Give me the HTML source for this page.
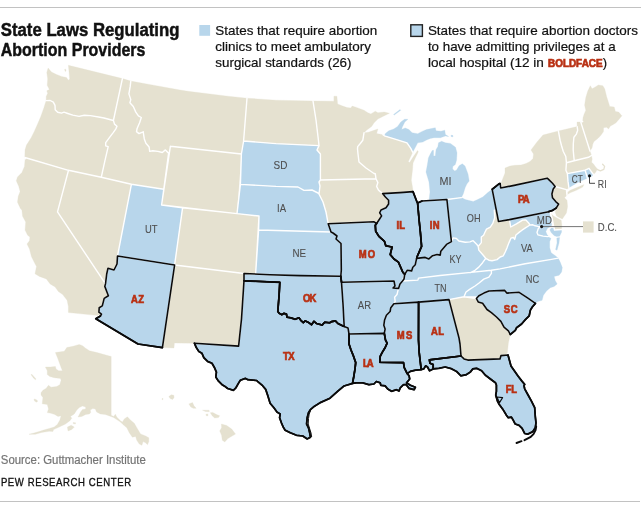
<!DOCTYPE html>
<html lang="en"><head><meta charset="utf-8"><title>State Laws Regulating Abortion Providers</title>
<style>
html,body{margin:0;padding:0;background:#fff;}
body{width:641px;height:509px;overflow:hidden;font-family:"Liberation Sans",sans-serif;}
svg{display:block;}
text{font-family:"Liberation Sans",sans-serif;}
.t{font-weight:700;font-size:17.5px;fill:#111;stroke:#111;stroke-width:.45px;}
.l{font-size:13px;fill:#111;stroke:#111;stroke-width:.2px;}
.st{fill:#e5e1d0;stroke:#e5e1d0;stroke-width:.3;stroke-linejoin:round;}
.sb{fill:#b8d6eb;stroke:#b8d6eb;stroke-width:.3;stroke-linejoin:round;}
.wl{fill:none;stroke:#fff;stroke-width:1.4;stroke-linejoin:round;stroke-linecap:round;}
.bd{fill:none;stroke:#0a0a0a;stroke-width:1.6;stroke-linejoin:round;stroke-linecap:round;}
.lb{font-size:10.6px;fill:#4f4f4f;stroke:#4f4f4f;stroke-width:.1px;}
.lr{font-size:10.5px;font-weight:700;fill:#b93114;stroke:#b93114;stroke-width:.7px;}
</style></head><body>
<svg width="641" height="509" viewBox="0 0 641 509">
<rect x="0" y="0" width="641" height="509" fill="#fff"/>
<rect x="0" y="7" width="641" height="1" fill="#c2c2c2"/>
<rect x="0" y="501" width="640" height="1" fill="#c2c2c2"/>

<g id="map">
<path class="st" d="M46.2 100.6L46.2 96.5L47.7 93.3L46.8 90.8L49.4 89.6L47.2 85.2L47.7 78.9L46.8 72.6L48.1 68L51.4 72L56.5 74.5L61.5 76.4L66.5 77.6L68.4 80.3L69.7 78.9L69.1 72.6L68.4 65.3L122.4 78.6L113.4 120.5L104 118L100 117.2L90.4 115.6L84.2 115.3L79.1 116.4L72.8 115.1L67.8 113.5L64 112.2L61.5 113.1L57.7 112.2L55.2 109.7L55 105.3L53.3 102.1L50.2 100.5L46.2 100.6Z"/>
<path class="st" d="M64.6 69.4L65.6 69L66 71L65.2 71.4Z"/>
<path class="st" d="M24.8 157.5L25 150L26.5 145L31 138L34.5 131L37.6 124L40.8 116.6L43.9 107.8L46.2 100.6L50.2 100.5L53.3 102.1L55 105.3L55.2 109.7L57.7 112.2L61.5 113.1L64 112.2L67.8 113.5L72.8 115.1L79.1 116.4L84.2 115.3L90.4 115.6L100 117.2L104 118L113.4 120.5L114.5 124.1L117 126.2L115.7 129.1L113.2 132.6L109.4 137.6L105.7 142.6L105.7 145.8L108.2 146.7L105 160.3L101.3 177.2L68.5 170.3Z"/>
<path class="st" d="M24.8 157.5L68.5 170.3L57.5 211.9L105.5 283.9L104.8 286.4L107.4 293.3L108.4 295.8L104.2 298.4L102.3 305.9L99.2 307.8L98.9 312.2L101.5 314.1L100.4 316L98.5 315.6L68.4 312.6L68.4 306.5L67.1 300.3L62.7 294.6L58.3 291.4L55.2 287L50.1 283.9L46.4 278.9L39.4 276.4L35 273.8L36.5 266.5L34.5 262.8L31.4 256.5L29.5 249L27 244L29.5 240.8L29.9 237L27.6 235.2L25.1 230.1L25.7 221.9L22.6 216.3L21.9 210L20.7 209.1L17.5 202.2L18.2 196.5L20.1 191.5L18.8 186.5L16.3 180.8L17.5 177L21.9 172.6L24.5 166.4L25.1 158.8Z"/>
<path class="st" d="M68.5 170.3L101.3 177.2L131.4 184.3L117.5 256L117 264L114 270L108 268.2L106.7 274L105.5 283.9L57.5 211.9Z"/>
<path class="st" d="M122.4 78.6L130.8 81.1L130.2 86.4L128.9 93.9L130.8 99.6L129.9 102.7L133.3 106.5L135.8 112.1L138.4 115.9L141.3 117.5L139.6 122.8L137.1 128.5L136.5 131.6L139 133.6L143.2 131.8L144.3 138.9L145.9 143.3L149.1 147L149.7 151.4L152.8 150.8L157.9 151.4L162.3 152.5L165.4 149.9L168.6 153.3L163.8 189.2L131.4 184.3L101.3 177.2L105 160.3L108.2 146.7L105.7 145.8L105.7 142.6L109.4 137.6L113.2 132.6L115.7 129.1L117 126.2L114.5 124.1L113.4 120.5Z"/>
<path class="st" d="M130.8 81.1L148 84.2L180 90L188 91.3L228 96.2L247 98.2L243.6 141L241.4 154L170.4 146.2L169.5 152L168.6 153.3L165.4 149.9L162.3 152.5L157.9 151.4L152.8 150.8L149.7 151.4L149.1 147L145.9 143.3L144.3 138.9L143.2 131.8L139 133.6L136.5 131.6L137.1 128.5L139.6 122.8L141.3 117.5L138.4 115.9L135.8 112.1L133.3 106.5L129.9 102.7L130.8 99.6L128.9 93.9L130.2 86.4Z"/>
<path class="st" d="M170.4 146.2L241.4 154L237 213.6L161.6 205Z"/>
<path class="sb" d="M131.4 184.3L163.8 189.2L161.6 205L182.6 207.7L174.6 265L117.5 256Z"/>
<path class="st" d="M182.6 207.7L237 213.6L259 216L255.6 274.1L244 273.5L174.6 265Z"/>
<path class="st" d="M174.6 265L244 273.5L244 280.8L241.5 319L238.6 346.1L194.4 343.2L174.4 343L174 348L162.4 347.6Z"/>
<path class="sb" d="M174.6 265L162.4 347.6L138 344L95.8 318.7L100.4 316L101.5 314.1L98.9 312.2L99.2 307.8L102.3 305.9L104.2 298.4L108.4 295.8L107.4 293.3L104.8 286.4L105.5 283.9L106.7 274L108 268.2L114 270L117 264L117.5 256Z"/>
<path class="sb" d="M244 280.8L279.8 282.3L279.1 295.2L277.8 311.5L279.4 313.4L281.9 314.7L283.8 313.4L286.4 314L287 317.2L290.8 317.8L295.2 319.3L298.9 317.8L300.8 320.3L303.3 322.6L305.2 320.9L309 322.8L311.5 324.7L314 321.3L316.5 323.5L322.2 325.1L324.7 322.2L329.7 322.8L331.6 321.6L335.4 320.9L337.9 323.5L343 326L344.2 326.6L348 327.9L349 334L349 344L351 350L353.1 355.1L355.7 362.6L355 368.9L353.8 376.5L352.5 383.4L344 386L338 391L330 398.2L320.4 402.6L314.2 406.4L310.4 409.6L308.5 412.7L307.2 417.7L306.6 424L308.5 427.8L309.7 432.8L310.4 437.2L307.2 438.9L302.8 436L296.5 435.3L290.3 432.8L285.2 430.3L283.3 427.2L281.4 422.8L279.6 417.7L280.2 414L277 412.1L273.9 407.7L270.1 403.3L267.6 395.1L265.7 389.4L262.6 385.7L257.5 381.3L256.7 380.5L247.9 379.7L245.3 378.4L240.3 380.3L238.4 383.4L235.9 387.8L233.4 390.3L227.7 388.5L225.2 386.6L222.1 384.7L218.3 380.9L215.8 377.1L216.4 372.1L214.5 367.7L212 363.3L207.6 361.4L203.8 357.6L201.9 353.2L198.8 351.4L196.3 347.6L194.4 343.2L238.6 346.1L241.5 319Z"/>
<path class="sb" d="M244 273.5L270 274.7L300 275.6L340.8 276.2L341.5 282.2L343 304L344.2 326.6L343 326L337.9 323.5L335.4 320.9L331.6 321.6L329.7 322.8L324.7 322.2L322.2 325.1L316.5 323.5L314 321.3L311.5 324.7L309 322.8L305.2 320.9L303.3 322.6L300.8 320.3L298.9 317.8L295.2 319.3L290.8 317.8L287 317.2L286.4 314L283.8 313.4L281.9 314.7L279.4 313.4L277.8 311.5L279.1 295.2L279.8 282.3L244 280.8Z"/>
<path class="sb" d="M258.6 230L331 232L333 233L337 236L336 239L341 243.5L341.3 270L340.8 276.2L300 275.6L270 274.7L255.6 274.1Z"/>
<path class="sb" d="M240.4 184.4L276 186.4L298 187L304 190.4L312 190L318 193L319 194L323 202L326 212L328.2 223.8L330 229.1L331 232L258.6 230L259 216L237 213.6Z"/>
<path class="sb" d="M243.6 141L276 143.6L319 145.6L317 150L320.4 154L320.4 180L319 182L320 186L319 194L318 193L312 190L304 190.4L298 187L276 186.4L240.4 184.4L241.4 154Z"/>
<path class="st" d="M247 98.2L276 100.2L313 101L316 120L318.4 140L319 145.6L276 143.6L243.6 141Z"/>
<path class="st" d="M313 101L333.9 101.2L333.9 96.2L336.9 96.2L337.6 103.9L342 105.8L347 107.6L350.8 107.9L352.1 106.1L356.5 107.4L364 110.2L367.8 112.7L370.9 113.9L375.3 111.2L377.9 112.7L384.2 112L389.4 113.3L382.9 116.4L377.9 119L374.1 122.7L371.6 126.5L366.5 130.3L364 132.8L363.4 136.6L362.8 140.3L360.3 143.5L357.7 146.6L357.5 149L358 154L359 162L366 168L374 173.5L375.3 173.8L376 178.8L320.4 180L320.4 154L317 150L319 145.6L318.4 140L316 120L313 101Z"/>
<path class="st" d="M320.4 180L376 178.8L377.9 182.6L376.6 186.4L378.5 190.1L382.6 193.6L385.4 197L388.6 200.2L388.6 204L386 207.7L381 210L379.7 212.8L381.6 215.9L379.1 219.7L376.6 223.5L374.1 221.8L328.2 223.8L326 212L323 202L319 194L320 186L319 182Z"/>
<path class="sb" d="M328.2 223.8L374.1 221.8L376.6 223.5L375.3 225.3L375.7 231.3L378.9 236.4L384.5 241.4L385.8 245.8L392.1 247L390.2 254.6L394 259L398.4 262.1L400.9 267.8L402.8 272.2L404.7 274.3L404 279.1L402.5 281L400 284L398.5 288.4L393 288L395 286L394 281L341.5 282.2L340.8 276.2L341.3 270L341 243.5L336 239L337 236L333 233L331 232L330 229.1Z"/>
<path class="sb" d="M341.5 282.2L394 281L395 286L393 288L398.5 288.4L397 294.5L394.6 297.2L395.2 301.4L393.9 303.7L390.8 307.7L390.1 311.5L386.4 315.3L384.5 320.3L383.8 325.3L385.1 329.1L384.3 333.4L349 334L348 327.9L344.2 326.6L343 304Z"/>
<path class="sb" d="M349 334L384.3 333.4L385.5 340L387.1 343.1L385.2 347.5L382.1 352.6L380.2 356.4L379.8 362.3L403.5 362.6L404.2 367.5L407.2 373.6L409.1 375.8L409.7 379L406.6 382.8L410.4 385.3L415.4 387.2L414.2 389.7L409.1 388.4L406 384.5L403.5 384.7L400.3 387.8L399 391L396.5 389.7L391.5 391.3L387.7 389L385.2 385.9L380.8 385.3L380.2 382.8L376.4 381.5L373.9 384L368.9 384.7L362.6 382.8L356.3 382.8L352.5 383.4L353.8 376.5L355 368.9L355.7 362.6L353.1 355.1L351 350L349 344Z"/>
<path class="sb" d="M393.9 303.7L390.8 307.7L390.1 311.5L386.4 315.3L384.5 320.3L383.8 325.3L385.1 329.1L384.3 333.4L385.5 340L387.1 343.1L385.2 347.5L382.1 352.6L380.2 356.4L379.8 362.3L403.5 362.6L404.2 367.5L407.2 373.6L410.4 371.4L415.4 370.2L421.2 369.6L419.2 352.6L418.5 340L418.6 302.1Z"/>
<path class="sb" d="M418.6 302.1L449 299.6L459 338L460 344L461 356L429.4 359.9L430 363.3L433.2 364.5L433.2 368.9L429.6 370.8L427.5 367L425.7 365.8L423.8 368.9L421.2 369.6L419.2 352.6L418.5 340Z"/>
<path class="sb" d="M402.5 281L417.9 280.1L418.5 278.1L440 275.5L471 272.4L491.4 270.2L491.4 273.4L488.9 277.2L483.8 279.1L479.4 282.8L475 286L470 289.1L466 292L464 296.8L449 299.6L418.6 302.1L393.9 303.7L395.2 301.4L394.6 297.2L397 294.5L398.5 288.4L400 284Z"/>
<path class="sb" d="M404.7 274.3L407.2 270.3L411.6 270.9L412.8 267.2L415.3 264.7L416.6 258.4L425.2 257.4L428.9 258.9L432.6 255.7L437 254.5L440.2 255.1L440.8 251.3L444 247.5L446.5 244.4L451.4 241.6L453.2 237.9L456.4 238.5L458.9 241L465.2 242.3L470 241.9L473.1 240.7L476.9 244.5L478.2 246.4L478.8 250.1L482.6 254.5L485.7 258.3L482.6 262.7L478.8 267.1L475 270.3L471 272.4L440 275.5L418.5 278.1L417.9 280.1L402.5 281Z"/>
<path class="sb" d="M382.6 193.6L400 192.6L413 191.6L417 202L417.6 203L419.1 220L420.4 232.6L421.6 246.4L419.1 252.1L417.2 256.5L416.6 258.4L415.3 264.7L412.8 267.2L411.6 270.9L407.2 270.3L404.7 274.3L402.8 272.2L400.9 267.8L398.4 262.1L394 259L390.2 254.6L392.1 247L385.8 245.8L384.5 241.4L378.9 236.4L375.7 231.3L375.3 225.3L376.6 223.5L379.1 219.7L381.6 215.9L379.7 212.8L381 210L386 207.7L388.6 204L388.6 200.2L385.4 197Z"/>
<path class="sb" d="M417.6 203L422 201L446.9 199.5L451.4 241.6L446.5 244.4L444 247.5L440.8 251.3L440.2 255.1L437 254.5L432.6 255.7L428.9 258.9L425.2 257.4L416.6 258.4L417.2 256.5L419.1 252.1L421.6 246.4L420.4 232.6L419.1 220Z"/>
<path class="sb" d="M446.9 199.5L461.4 197.6L465.2 199.5L470.2 200.8L473.3 201.4L477.7 199.5L482.8 197L487.8 192.6L492.2 189.3L496.3 210.2L494.3 210.2L494.7 217.7L492.8 223.4L490.3 227.2L486.5 229.1L484.7 232.8L483.6 235.2L481.3 237L481.3 242.6L478.2 246.4L476.9 244.5L473.1 240.7L470 241.9L465.2 242.3L458.9 241L456.4 238.5L453.2 237.9L451.4 241.6Z"/>
<path class="sb" d="M429 200.4L446.9 199.5L461.4 197.6L463.3 193.8L465.2 187.5L467 183.8L469.2 181L468 174L465 166L462.3 163.8L459.1 165.7L456.6 170.1L454.7 171.1L452.6 168.9L452.8 166.4L455.3 164.5L456.6 160L457 152.8L455.5 147.2L450.4 143.4L445.4 142.8L441.6 141.3L438.5 142.8L437.9 146.5L436 149.7L435.3 156L433.6 156L433.5 150.3L432.2 150.6L430.3 154.1L428.4 157.9L427.5 164L426 172L429 182L430 192Z"/>
<path class="sb" d="M384.4 135.8L385.4 133.4L388.8 130.8L393.8 128.9L397.6 126.4L400.8 122L404.5 119.3L407.9 119.3L404.8 122L402.3 127L401.6 129.6L405.2 127.9L408.9 129.6L412.1 132.7L417.7 133.7L422.1 131.4L426.5 129.6L435.3 127.7L436 130.8L441 131.2L444.8 130.2L445.4 134.6L448.6 136.5L445.4 136L440.4 137.7L434.1 137.7L430.3 138.4L426.5 140L422.8 142.1L417.7 142.8L415.8 146.5L412.7 152.2L410.8 148.4L407 142.8L395 139.2Z"/>
<path class="sb" d="M393.6 114.4L400.1 109.6L400.7 110.3L394.2 115.1Z"/>
<path class="sb" d="M451 135.2L453 135.6L453 136.8L451 136.5Z"/>
<path class="st" d="M364 132.8L368.4 132.2L374.1 130.3L377.9 129L376.6 133.4L379.1 134.1L382.9 134.7L384.4 135.8L395 139.2L407 142.8L410.8 148.4L412.7 152.2L410.5 157L408.3 161.6L409.6 162.5L413.5 156.5L417.6 150.5L418.3 151.8L415.3 158L413 163L412.6 168.9L411.3 180.2L412.6 187.7L413 191.6L400 192.6L382.6 193.6L378.5 190.1L376.6 186.4L377.9 182.6L376 178.8L375.3 173.8L374 173.5L366 168L359 162L358 154L357.5 149L357.7 146.6L360.3 143.5L362.8 140.3L363.4 136.6Z"/>
<path class="sb" d="M492.2 189.3L499.3 183.6L500.2 183.6L500.7 188L513 185.6L547.2 178.2L548.8 179.6L552.5 183.3L555.1 186.5L553.2 189L551.9 194L552.5 197.8L555.7 201.6L558.6 204.1L556.3 207.9L552.5 210.4L548.6 211.7L509.4 219.6L498.5 221.5Z"/>
<path class="st" d="M500.7 188L500.7 184L505 173L505 168L510 166L515 165.3L521 165L526 163.5L530 161.5L533 158.5L533.5 154L531 150L534 146L537 142L543 135L558.4 131L560.1 140.2L561.4 145.2L563.3 151.5L565.8 156.5L566.4 162.8L565.9 170.3L567.4 173.6L568 181.4L568.9 187.7L566.4 189.6L555.1 186.5L552.5 183.3L548.8 179.6L547.2 178.2L513 185.6Z"/>
<path class="st" d="M567 192.8L570.2 190.3L576.4 187.7L584 184.6L582.7 187.1L576.4 190.3L570.2 192.8L567 194.7Z"/>
<path class="st" d="M555.1 186.5L566.4 189.6L567 195.3L564.5 197.8L567 200.3L567.6 206.6L566.4 213L562.3 219L559.6 217.8L556.6 216L555.2 212.5L556.3 207.9L558.6 204.1L555.7 201.6L552.5 197.8L551.9 194L553.2 189Z"/>
<path class="st" d="M558.4 131L577.2 126.6L577.7 130.3L576.4 134.1L573.9 137.2L573.3 144L573.2 150L574.2 160.7L566.4 162.8L565.8 156.5L563.3 151.5L561.4 145.2L560.1 140.2Z"/>
<path class="st" d="M577 122.1L580.8 122.1L590 151L591.5 155.5L588.4 157.3L574.2 160.7L573.2 150L573.3 144L573.9 137.2L576.4 134.1L577.7 130.3L577.2 126.6Z"/>
<path class="st" d="M580.8 122.1L582.7 121.5L583 117.7L584 114.6L585.8 110.2L584.6 105.2L585.8 97.6L587.7 91.3L590.3 85.7L592.1 88.8L595.3 86.9L598.4 85L602.8 85.7L604.7 88.8L606.6 96.4L608.5 102.6L609.7 106.4L614.2 107L615.4 111.4L618.6 112.1L621.9 115.8L619.2 119L616 122.8L612.9 124.7L610.4 125.9L608.5 129.1L606.6 127.2L603.5 127.8L603.5 131.6L600.9 135.3L597.8 138.5L594 141.6L592.8 144L592 148L590 151Z"/>
<path class="st" d="M566.4 162.8L574.2 160.7L588.4 157.3L591.5 155.5L592.2 159L591.6 162.2L593.5 164.1L595.3 166.6L597.4 169.1L595.6 172.2L594.1 174.3L593.4 174.5L589 168.3L585.2 170.2L567.4 173.6L565.9 170.3Z"/>
<path class="sb" d="M567.4 173.6L585.2 170.2L587.4 178.3L582.7 180.2L576.4 183.3L568.9 187.7L568 181.4Z"/>
<path class="sb" d="M585.2 170.2L589 168.3L593.4 174.5L591.5 176.4L587.4 178.3Z"/>
<path class="st" d="M550.5 213L553.5 216L557 218L561.2 220.2L561.8 225L561.5 229.5L554.5 230L553.3 224.7L552 218Z"/>
<path class="sb" d="M509.4 219.6L548.6 211.7L550.3 213.5L551.5 218L552 223L551.3 226L547.5 228.2L545.8 231.5L547 234.5L548.5 236.3L547.8 236.6L543.1 236.1L538 234.9L537 232.5L538.4 228.2L541.7 226.8L538 226.4L535.2 225.8L532.9 224.8L530 225L528.9 223.3L525.8 219.9L522.6 220.1L516.4 223.9L510.7 227Z"/>
<path class="sb" d="M553.8 226.3L554.5 230L561.5 229.5L561.6 232L559.6 236.2L556.5 236.5L554 235.5L551.2 232.5L549.8 229.8L552 227.3Z"/>
<path class="st" d="M496.3 210.2L498.5 221.5L509.4 219.6L510.7 227L516.4 223.9L522.6 220.1L525.8 219.9L528.9 223.3L530 225L525.8 227.7L522 230.2L519.7 231.9L515.9 235L514.7 239.4L513.4 237.5L510.9 238.2L509 242.6L507.1 247.6L505.2 252L503.3 255.8L500.2 257L497 259.6L492 260.8L488.9 260.2L485.7 258.3L482.6 254.5L478.8 250.1L478.2 246.4L478.2 246.4L481.3 242.6L481.3 237L483.6 235.2L484.7 232.8L486.5 229.1L490.3 227.2L492.8 223.4L494.7 217.7L494.3 210.2Z"/>
<path class="sb" d="M471 272.4L475 270.3L478.8 267.1L482.6 262.7L485.7 258.3L488.9 260.2L492 260.8L497 259.6L500.2 257L503.3 255.8L505.2 252L507.1 247.6L509 242.6L510.9 238.2L513.4 237.5L514.7 239.4L515.9 235L519.7 231.9L522 230.2L525.8 227.7L530 225L532.9 224.8L535.2 225.8L538 226.4L541.7 226.8L538.4 228.2L537 232.5L538 234.9L543.1 236.1L547.8 236.6L551 238.4L549.7 241.5L549.7 247.8L551.2 252.8L555.3 255.7L558.2 258.1L550 259.6L525.2 263.8L500 268.9L491.4 270.2Z"/>
<path class="sb" d="M556.8 238L559.6 237.6L559 243L557 250.3L555.6 249.5L557 243Z"/>
<path class="sb" d="M491.4 270.2L500 268.9L525.2 263.8L550 259.6L558.2 258.1L560.4 262.6L562.3 267.6L561.6 272L559.1 275.2L554.1 276.4L555.3 280.8L557.2 284L554.1 286.5L550.3 287.7L546.5 290.9L543.4 295.3L542.1 300.3L537.7 301.6L535.4 303.4L527.9 298.2L519.1 292.3L506.8 293.1L504.7 290.4L488.9 291L483.9 293.1L478.9 295.7L476.4 298.5L476 297L464 296.8L466 292L470 289.1L475 286L479.4 282.8L483.8 279.1L488.9 277.2L491.4 273.4Z"/>
<path class="sb" d="M476.4 298.5L478.9 295.7L483.9 293.1L488.9 291L504.7 290.4L506.8 293.1L519.1 292.3L527.9 298.2L535.4 303.4L532.3 307L530.4 310.1L529.2 315.8L525.4 319.6L521.6 324L516.6 327.7L515.3 330.3L510.3 334.5L508.4 330.9L504 327.1L500.9 321.4L496.5 317L491.4 312.6L487 309.5L482.6 303.2L478.2 301.9Z"/>
<path class="st" d="M449 299.6L464 296.8L476.4 298.5L478.2 301.9L482.6 303.2L487 309.5L491.4 312.6L496.5 317L500.9 321.4L504 327.1L508.4 330.9L510.3 334.5L508.4 342.8L507.2 354L508 355L501 355.6L500 358.9L467.8 360.1L464 358.9L461 356L460 344L459 338Z"/>
<path class="sb" d="M429.4 359.9L461 356L464 358.9L467.8 360.1L500 358.9L501 355.6L508 355L511 366L518 376L521.5 380.6L524.7 384.4L524 385.7L524.7 388.8L527.8 394.5L531.6 401.4L534.7 407.7L535.3 416.5L536 422.8L535.3 427.8L532.8 431.6L527.8 434.1L524.7 433.5L522.1 428.4L519 425.3L515.2 424L513.3 420.3L511.4 417.1L508.3 417.7L506.4 415.2L502.6 408.9L498.9 403.9L497.6 401.4L495.7 395.1L496.4 391.3L496.4 385L495.5 382.8L490.4 379L485.4 375.2L481.6 370.8L476.6 368.3L472.8 368.9L470.3 372.1L466.5 374.6L460.9 375.8L456.5 371.4L451.4 368.7L445.2 367L438.9 368.3L433.2 368.9L433.2 364.5L430 363.3Z"/>
<path class="st" d="M55.4 352.6L64.3 351.3L66.8 347.5L73 346.3L79.3 344.4L82.5 345.7L85.6 348.2L89.4 350.7L97 352.6L104 354.5L111.2 356.5L111.2 415.2L113.6 416.4L115.4 414.2L116.7 417L120.5 420.8L122.4 422.1L124.3 418.9L127.4 416.8L129.9 419.6L134.3 423.3L136.8 427.7L140.6 434L145.6 435.9L148.8 437.8L148.8 441.6L147.5 444.7L145.6 442.8L143.1 441.6L141.9 445.3L139.3 444.1L136.8 440.3L135.6 436.5L132.4 437.2L129.3 432.8L126.8 427.7L123 424.6L120.5 422.1L116.7 419.6L113.6 417.5L105.4 414.5L100.4 413.9L96.6 412L95.3 408.9L92.8 408.6L90.3 410.1L90.7 412.6L89.4 413.9L85.6 414.5L81.9 416.4L78 417L78.7 415.8L80.6 412L82.5 409.5L85.6 408.9L85.6 407L82.5 406.1L79.3 407.6L76.8 410.1L74.3 413.9L70.5 416.4L71.8 418.3L69.9 420.8L65.5 424L59.2 427.1L53.6 429.6L52.9 431.5L49.2 431.3L41.6 432.5L35.3 434.3L29 434.3L34 433L39.1 431.5L42.9 430.3L49.2 428.4L54.2 427.1L57.3 424.6L59.8 420.2L61.1 415.8L58 416.4L54.8 414.5L51 413.3L47.3 412.6L48.5 408.9L47.3 404.5L42.2 403.8L42.9 397.5L41 395L41 392.8L42.9 390.3L46 388.4L48.5 385.3L51 387.2L56.7 386.5L59.8 384.7L61.1 380.3L60.5 378.4L54.2 377.7L49.8 376.5L47.3 374.6L47.3 370.8L45.4 367L50.4 367L55.4 366.4L56 368.9L58.6 370.8L62.4 370.8L61.7 368.9L59.8 363.9L58 358.9Z"/>
<path class="st" d="M67.4 427.1L71.2 425.2L74.3 427.1L71.8 429.6L68 430.9Z"/>
<path class="st" d="M31 374.6L32 374.4L36 379L35.4 379.8L33 377.5Z"/>
<path class="st" d="M34 399L36 399.5L37.8 401L36.5 402.3L34.5 401Z"/>
<path class="st" d="M73 422.6L75.6 422.8L75.4 424L73.2 423.6Z"/>
<path class="st" d="M162 398.6L163 398.4L163 399.6L162 399.6Z"/>
<path class="st" d="M168.8 396.6L171.3 394.8L173.8 395.3L174.1 397.6L172.6 399.5L170.1 398.6Z"/>
<path class="st" d="M188.9 403.9L192.5 402.6L194 405.8L196.2 408.3L193.3 408.3L190.8 407Z"/>
<path class="st" d="M202.5 410.2L209.1 410.2L209.3 411.7L205.3 411.4Z"/>
<path class="st" d="M210.3 412.7L212.8 412.4L216.6 414.6L219.7 415.8L218.5 417.5L214.7 418L212.2 415.8Z"/>
<path class="st" d="M221.4 424L226.7 425.5L231.7 429L235.5 434.1L231.7 436.3L227.9 438.5L224.8 441.9L222.3 440.3L221.6 435.3L219.7 430.9L221.6 427.8Z"/>
<path class="st" d="M205.9 414.2L207.8 413.9L208.1 415.8L206.3 415.8Z"/>
<path class="wl" d="M122.4 78.6L113.4 120.5L104 118L100 117.2L90.4 115.6L84.2 115.3L79.1 116.4L72.8 115.1L67.8 113.5L64 112.2L61.5 113.1L57.7 112.2L55.2 109.7L55 105.3L53.3 102.1L50.2 100.5L46.2 100.6L46.2 100.6M46.2 100.6L50.2 100.5L53.3 102.1L55 105.3L55.2 109.7L57.7 112.2L61.5 113.1L64 112.2L67.8 113.5L72.8 115.1L79.1 116.4L84.2 115.3L90.4 115.6L100 117.2L104 118L113.4 120.5L114.5 124.1L117 126.2L115.7 129.1L113.2 132.6L109.4 137.6L105.7 142.6L105.7 145.8L108.2 146.7L105 160.3L101.3 177.2L68.5 170.3L24.8 157.5M24.8 157.5L68.5 170.3L57.5 211.9L105.5 283.9L104.8 286.4L107.4 293.3L108.4 295.8L104.2 298.4L102.3 305.9L99.2 307.8L98.9 312.2L101.5 314.1L100.4 316L98.5 315.6M25.1 158.8L24.8 157.5M68.5 170.3L101.3 177.2L131.4 184.3L117.5 256L117 264L114 270L108 268.2L106.7 274L105.5 283.9L57.5 211.9L68.5 170.3M130.8 81.1L130.2 86.4L128.9 93.9L130.8 99.6L129.9 102.7L133.3 106.5L135.8 112.1L138.4 115.9L141.3 117.5L139.6 122.8L137.1 128.5L136.5 131.6L139 133.6L143.2 131.8L144.3 138.9L145.9 143.3L149.1 147L149.7 151.4L152.8 150.8L157.9 151.4L162.3 152.5L165.4 149.9L168.6 153.3L163.8 189.2L131.4 184.3L101.3 177.2L105 160.3L108.2 146.7L105.7 145.8L105.7 142.6L109.4 137.6L113.2 132.6L115.7 129.1L117 126.2L114.5 124.1L113.4 120.5L122.4 78.6M247 98.2L243.6 141L241.4 154L170.4 146.2L169.5 152L168.6 153.3L165.4 149.9L162.3 152.5L157.9 151.4L152.8 150.8L149.7 151.4L149.1 147L145.9 143.3L144.3 138.9L143.2 131.8L139 133.6L136.5 131.6L137.1 128.5L139.6 122.8L141.3 117.5L138.4 115.9L135.8 112.1L133.3 106.5L129.9 102.7L130.8 99.6L128.9 93.9L130.2 86.4L130.8 81.1M170.4 146.2L241.4 154M237 213.6L161.6 205L170.4 146.2M131.4 184.3L163.8 189.2L161.6 205L182.6 207.7L174.6 265L117.5 256L131.4 184.3M182.6 207.7L237 213.6L259 216L255.6 274.1L244 273.5L174.6 265L182.6 207.7M174.6 265L244 273.5L244 280.8L241.5 319L238.6 346.1L194.4 343.2M162.4 347.6L174.6 265M174.6 265L162.4 347.6M100.4 316L101.5 314.1L98.9 312.2L99.2 307.8L102.3 305.9L104.2 298.4L108.4 295.8L107.4 293.3L104.8 286.4L105.5 283.9L106.7 274L108 268.2L114 270L117 264L117.5 256L174.6 265M244 280.8L279.8 282.3L279.1 295.2L277.8 311.5L279.4 313.4L281.9 314.7L283.8 313.4L286.4 314L287 317.2L290.8 317.8L295.2 319.3L298.9 317.8L300.8 320.3L303.3 322.6L305.2 320.9L309 322.8L311.5 324.7L314 321.3L316.5 323.5L322.2 325.1L324.7 322.2L329.7 322.8L331.6 321.6L335.4 320.9L337.9 323.5L343 326L344.2 326.6L348 327.9L349 334L349 344L351 350L353.1 355.1L355.7 362.6L355 368.9L353.8 376.5L352.5 383.4M194.4 343.2L238.6 346.1L241.5 319L244 280.8M244 273.5L270 274.7L300 275.6L340.8 276.2L341.5 282.2L343 304L344.2 326.6L343 326L337.9 323.5L335.4 320.9L331.6 321.6L329.7 322.8L324.7 322.2L322.2 325.1L316.5 323.5L314 321.3L311.5 324.7L309 322.8L305.2 320.9L303.3 322.6L300.8 320.3L298.9 317.8L295.2 319.3L290.8 317.8L287 317.2L286.4 314L283.8 313.4L281.9 314.7L279.4 313.4L277.8 311.5L279.1 295.2L279.8 282.3L244 280.8L244 273.5M258.6 230L331 232L333 233L337 236L336 239L341 243.5L341.3 270L340.8 276.2L300 275.6L270 274.7L255.6 274.1L258.6 230M240.4 184.4L276 186.4L298 187L304 190.4L312 190L318 193L319 194L323 202L326 212L328.2 223.8L330 229.1L331 232L258.6 230L259 216L237 213.6L240.4 184.4M243.6 141L276 143.6L319 145.6L317 150L320.4 154L320.4 180L319 182L320 186L319 194L318 193L312 190L304 190.4L298 187L276 186.4L240.4 184.4L241.4 154L243.6 141M313 101L316 120L318.4 140L319 145.6L276 143.6L243.6 141L247 98.2M364 132.8L363.4 136.6L362.8 140.3L360.3 143.5L357.7 146.6L357.5 149L358 154L359 162L366 168L374 173.5L375.3 173.8L376 178.8L320.4 180L320.4 154L317 150L319 145.6L318.4 140L316 120L313 101L313 101M320.4 180L376 178.8L377.9 182.6L376.6 186.4L378.5 190.1L382.6 193.6L385.4 197L388.6 200.2L388.6 204L386 207.7L381 210L379.7 212.8L381.6 215.9L379.1 219.7L376.6 223.5L374.1 221.8L328.2 223.8L326 212L323 202L319 194L320 186L319 182L320.4 180M328.2 223.8L374.1 221.8L376.6 223.5L375.3 225.3L375.7 231.3L378.9 236.4L384.5 241.4L385.8 245.8L392.1 247L390.2 254.6L394 259L398.4 262.1L400.9 267.8L402.8 272.2L404.7 274.3L404 279.1L402.5 281L400 284L398.5 288.4L393 288L395 286L394 281L341.5 282.2L340.8 276.2L341.3 270L341 243.5L336 239L337 236L333 233L331 232L330 229.1L328.2 223.8M341.5 282.2L394 281L395 286L393 288L398.5 288.4L397 294.5L394.6 297.2L395.2 301.4L393.9 303.7L390.8 307.7L390.1 311.5L386.4 315.3L384.5 320.3L383.8 325.3L385.1 329.1L384.3 333.4L349 334L348 327.9L344.2 326.6L343 304L341.5 282.2M349 334L384.3 333.4L385.5 340L387.1 343.1L385.2 347.5L382.1 352.6L380.2 356.4L379.8 362.3L403.5 362.6L404.2 367.5L407.2 373.6M352.5 383.4L353.8 376.5L355 368.9L355.7 362.6L353.1 355.1L351 350L349 344L349 334M393.9 303.7L390.8 307.7L390.1 311.5L386.4 315.3L384.5 320.3L383.8 325.3L385.1 329.1L384.3 333.4L385.5 340L387.1 343.1L385.2 347.5L382.1 352.6L380.2 356.4L379.8 362.3L403.5 362.6L404.2 367.5L407.2 373.6M421.2 369.6L419.2 352.6L418.5 340L418.6 302.1L393.9 303.7M418.6 302.1L449 299.6L459 338L460 344L461 356L429.4 359.9L430 363.3L433.2 364.5L433.2 368.9M421.2 369.6L419.2 352.6L418.5 340L418.6 302.1M402.5 281L417.9 280.1L418.5 278.1L440 275.5L471 272.4L491.4 270.2L491.4 273.4L488.9 277.2L483.8 279.1L479.4 282.8L475 286L470 289.1L466 292L464 296.8L449 299.6L418.6 302.1L393.9 303.7L395.2 301.4L394.6 297.2L397 294.5L398.5 288.4L400 284L402.5 281M404.7 274.3L407.2 270.3L411.6 270.9L412.8 267.2L415.3 264.7L416.6 258.4L425.2 257.4L428.9 258.9L432.6 255.7L437 254.5L440.2 255.1L440.8 251.3L444 247.5L446.5 244.4L451.4 241.6L453.2 237.9L456.4 238.5L458.9 241L465.2 242.3L470 241.9L473.1 240.7L476.9 244.5L478.2 246.4L478.8 250.1L482.6 254.5L485.7 258.3L482.6 262.7L478.8 267.1L475 270.3L471 272.4L440 275.5L418.5 278.1L417.9 280.1L402.5 281L404.7 274.3M382.6 193.6L400 192.6L413 191.6M417 202L417.6 203L419.1 220L420.4 232.6L421.6 246.4L419.1 252.1L417.2 256.5L416.6 258.4L415.3 264.7L412.8 267.2L411.6 270.9L407.2 270.3L404.7 274.3L402.8 272.2L400.9 267.8L398.4 262.1L394 259L390.2 254.6L392.1 247L385.8 245.8L384.5 241.4L378.9 236.4L375.7 231.3L375.3 225.3L376.6 223.5L379.1 219.7L381.6 215.9L379.7 212.8L381 210L386 207.7L388.6 204L388.6 200.2L385.4 197L382.6 193.6M422 201L446.9 199.5L451.4 241.6L446.5 244.4L444 247.5L440.8 251.3L440.2 255.1L437 254.5L432.6 255.7L428.9 258.9L425.2 257.4L416.6 258.4L417.2 256.5L419.1 252.1L421.6 246.4L420.4 232.6L419.1 220L417.6 203M446.9 199.5L461.4 197.6M492.2 189.3L496.3 210.2L494.3 210.2L494.7 217.7L492.8 223.4L490.3 227.2L486.5 229.1L484.7 232.8L483.6 235.2L481.3 237L481.3 242.6L478.2 246.4L476.9 244.5L473.1 240.7L470 241.9L465.2 242.3L458.9 241L456.4 238.5L453.2 237.9L451.4 241.6L446.9 199.5M429 200.4L446.9 199.5L461.4 197.6M412.7 152.2L410.8 148.4L407 142.8L395 139.2L384.4 135.8M382.9 134.7L384.4 135.8L395 139.2L407 142.8L410.8 148.4L412.7 152.2M413 191.6L400 192.6L382.6 193.6L378.5 190.1L376.6 186.4L377.9 182.6L376 178.8L375.3 173.8L374 173.5L366 168L359 162L358 154L357.5 149L357.7 146.6L360.3 143.5L362.8 140.3L363.4 136.6L364 132.8M500.2 183.6L500.7 188L513 185.6L547.2 178.2L548.8 179.6L552.5 183.3L555.1 186.5L553.2 189L551.9 194L552.5 197.8L555.7 201.6L558.6 204.1L556.3 207.9M548.6 211.7L509.4 219.6L498.5 221.5L492.2 189.3M500.7 188L500.7 184M558.4 131L560.1 140.2L561.4 145.2L563.3 151.5L565.8 156.5L566.4 162.8L565.9 170.3L567.4 173.6L568 181.4L568.9 187.7M566.4 189.6L555.1 186.5L552.5 183.3L548.8 179.6L547.2 178.2L513 185.6L500.7 188M567 194.7L567 192.8M555.1 186.5L566.4 189.6L567 195.3M556.3 207.9L558.6 204.1L555.7 201.6L552.5 197.8L551.9 194L553.2 189L555.1 186.5M577.2 126.6L577.7 130.3L576.4 134.1L573.9 137.2L573.3 144L573.2 150L574.2 160.7L566.4 162.8L565.8 156.5L563.3 151.5L561.4 145.2L560.1 140.2L558.4 131M580.8 122.1L590 151M591.5 155.5L588.4 157.3L574.2 160.7L573.2 150L573.3 144L573.9 137.2L576.4 134.1L577.7 130.3L577.2 126.6M580.8 122.1L582.7 121.5M590 151L580.8 122.1M566.4 162.8L574.2 160.7L588.4 157.3L591.5 155.5M594.1 174.3L593.4 174.5L589 168.3L585.2 170.2L567.4 173.6L565.9 170.3L566.4 162.8M567.4 173.6L585.2 170.2L587.4 178.3M568.9 187.7L568 181.4L567.4 173.6M585.2 170.2L589 168.3L593.4 174.5M587.4 178.3L585.2 170.2M561.5 229.5L554.5 230L553.3 224.7L552 218L550.5 213M509.4 219.6L548.6 211.7M550.3 213.5L551.5 218L552 223M548.5 236.3L547.8 236.6L543.1 236.1L538 234.9L537 232.5L538.4 228.2L541.7 226.8L538 226.4L535.2 225.8L532.9 224.8L530 225L528.9 223.3L525.8 219.9L522.6 220.1L516.4 223.9L510.7 227L509.4 219.6M553.8 226.3L554.5 230L561.5 229.5M552 227.3L553.8 226.3M496.3 210.2L498.5 221.5L509.4 219.6L510.7 227L516.4 223.9L522.6 220.1L525.8 219.9L528.9 223.3L530 225L525.8 227.7L522 230.2L519.7 231.9L515.9 235L514.7 239.4L513.4 237.5L510.9 238.2L509 242.6L507.1 247.6L505.2 252L503.3 255.8L500.2 257L497 259.6L492 260.8L488.9 260.2L485.7 258.3L482.6 254.5L478.8 250.1L478.2 246.4L478.2 246.4L481.3 242.6L481.3 237L483.6 235.2L484.7 232.8L486.5 229.1L490.3 227.2L492.8 223.4L494.7 217.7L494.3 210.2L496.3 210.2M471 272.4L475 270.3L478.8 267.1L482.6 262.7L485.7 258.3L488.9 260.2L492 260.8L497 259.6L500.2 257L503.3 255.8L505.2 252L507.1 247.6L509 242.6L510.9 238.2L513.4 237.5L514.7 239.4L515.9 235L519.7 231.9L522 230.2L525.8 227.7L530 225L532.9 224.8L535.2 225.8L538 226.4L541.7 226.8L538.4 228.2L537 232.5L538 234.9L543.1 236.1L547.8 236.6M558.2 258.1L550 259.6L525.2 263.8L500 268.9L491.4 270.2L471 272.4M491.4 270.2L500 268.9L525.2 263.8L550 259.6L558.2 258.1M535.4 303.4L527.9 298.2L519.1 292.3L506.8 293.1L504.7 290.4L488.9 291L483.9 293.1L478.9 295.7L476.4 298.5L476 297L464 296.8L466 292L470 289.1L475 286L479.4 282.8L483.8 279.1L488.9 277.2L491.4 273.4L491.4 270.2M476.4 298.5L478.9 295.7L483.9 293.1L488.9 291L504.7 290.4L506.8 293.1L519.1 292.3L527.9 298.2L535.4 303.4M510.3 334.5L508.4 330.9L504 327.1L500.9 321.4L496.5 317L491.4 312.6L487 309.5L482.6 303.2L478.2 301.9L476.4 298.5M449 299.6L464 296.8L476.4 298.5L478.2 301.9L482.6 303.2L487 309.5L491.4 312.6L496.5 317L500.9 321.4L504 327.1L508.4 330.9L510.3 334.5M507.2 354L508 355L501 355.6L500 358.9L467.8 360.1L464 358.9L461 356L460 344L459 338L449 299.6M429.4 359.9L461 356L464 358.9L467.8 360.1L500 358.9L501 355.6L508 355M433.2 368.9L433.2 364.5L430 363.3L429.4 359.9"/>
<path class="bd" d="M174.6 265L162.4 347.6L138 344L95.8 318.7L100.4 316L101.5 314.1L98.9 312.2L99.2 307.8L102.3 305.9L104.2 298.4L108.4 295.8L107.4 293.3L104.8 286.4L105.5 283.9L106.7 274L108 268.2L114 270L117 264L117.5 256Z"/>
<path class="bd" d="M244 280.8L279.8 282.3L279.1 295.2L277.8 311.5L279.4 313.4L281.9 314.7L283.8 313.4L286.4 314L287 317.2L290.8 317.8L295.2 319.3L298.9 317.8L300.8 320.3L303.3 322.6L305.2 320.9L309 322.8L311.5 324.7L314 321.3L316.5 323.5L322.2 325.1L324.7 322.2L329.7 322.8L331.6 321.6L335.4 320.9L337.9 323.5L343 326L344.2 326.6L348 327.9L349 334L349 344L351 350L353.1 355.1L355.7 362.6L355 368.9L353.8 376.5L352.5 383.4L344 386L338 391L330 398.2L320.4 402.6L314.2 406.4L310.4 409.6L308.5 412.7L307.2 417.7L306.6 424L308.5 427.8L309.7 432.8L310.4 437.2L307.2 438.9L302.8 436L296.5 435.3L290.3 432.8L285.2 430.3L283.3 427.2L281.4 422.8L279.6 417.7L280.2 414L277 412.1L273.9 407.7L270.1 403.3L267.6 395.1L265.7 389.4L262.6 385.7L257.5 381.3L256.7 380.5L247.9 379.7L245.3 378.4L240.3 380.3L238.4 383.4L235.9 387.8L233.4 390.3L227.7 388.5L225.2 386.6L222.1 384.7L218.3 380.9L215.8 377.1L216.4 372.1L214.5 367.7L212 363.3L207.6 361.4L203.8 357.6L201.9 353.2L198.8 351.4L196.3 347.6L194.4 343.2L238.6 346.1L241.5 319Z"/>
<path class="bd" d="M244 273.5L270 274.7L300 275.6L340.8 276.2L341.5 282.2L343 304L344.2 326.6L343 326L337.9 323.5L335.4 320.9L331.6 321.6L329.7 322.8L324.7 322.2L322.2 325.1L316.5 323.5L314 321.3L311.5 324.7L309 322.8L305.2 320.9L303.3 322.6L300.8 320.3L298.9 317.8L295.2 319.3L290.8 317.8L287 317.2L286.4 314L283.8 313.4L281.9 314.7L279.4 313.4L277.8 311.5L279.1 295.2L279.8 282.3L244 280.8Z"/>
<path class="bd" d="M328.2 223.8L374.1 221.8L376.6 223.5L375.3 225.3L375.7 231.3L378.9 236.4L384.5 241.4L385.8 245.8L392.1 247L390.2 254.6L394 259L398.4 262.1L400.9 267.8L402.8 272.2L404.7 274.3L404 279.1L402.5 281L400 284L398.5 288.4L393 288L395 286L394 281L341.5 282.2L340.8 276.2L341.3 270L341 243.5L336 239L337 236L333 233L331 232L330 229.1Z"/>
<path class="bd" d="M382.6 193.6L400 192.6L413 191.6L417 202L417.6 203L419.1 220L420.4 232.6L421.6 246.4L419.1 252.1L417.2 256.5L416.6 258.4L415.3 264.7L412.8 267.2L411.6 270.9L407.2 270.3L404.7 274.3L402.8 272.2L400.9 267.8L398.4 262.1L394 259L390.2 254.6L392.1 247L385.8 245.8L384.5 241.4L378.9 236.4L375.7 231.3L375.3 225.3L376.6 223.5L379.1 219.7L381.6 215.9L379.7 212.8L381 210L386 207.7L388.6 204L388.6 200.2L385.4 197Z"/>
<path class="bd" d="M417.6 203L422 201L446.9 199.5L451.4 241.6L446.5 244.4L444 247.5L440.8 251.3L440.2 255.1L437 254.5L432.6 255.7L428.9 258.9L425.2 257.4L416.6 258.4L417.2 256.5L419.1 252.1L421.6 246.4L420.4 232.6L419.1 220Z"/>
<path class="bd" d="M492.2 189.3L499.3 183.6L500.2 183.6L500.7 188L513 185.6L547.2 178.2L548.8 179.6L552.5 183.3L555.1 186.5L553.2 189L551.9 194L552.5 197.8L555.7 201.6L558.6 204.1L556.3 207.9L552.5 210.4L548.6 211.7L509.4 219.6L498.5 221.5Z"/>
<path class="bd" d="M349 334L384.3 333.4L385.5 340L387.1 343.1L385.2 347.5L382.1 352.6L380.2 356.4L379.8 362.3L403.5 362.6L404.2 367.5L407.2 373.6L409.1 375.8L409.7 379L406.6 382.8L410.4 385.3L415.4 387.2L414.2 389.7L409.1 388.4L406 384.5L403.5 384.7L400.3 387.8L399 391L396.5 389.7L391.5 391.3L387.7 389L385.2 385.9L380.8 385.3L380.2 382.8L376.4 381.5L373.9 384L368.9 384.7L362.6 382.8L356.3 382.8L352.5 383.4L353.8 376.5L355 368.9L355.7 362.6L353.1 355.1L351 350L349 344Z"/>
<path class="bd" d="M393.9 303.7L390.8 307.7L390.1 311.5L386.4 315.3L384.5 320.3L383.8 325.3L385.1 329.1L384.3 333.4L385.5 340L387.1 343.1L385.2 347.5L382.1 352.6L380.2 356.4L379.8 362.3L403.5 362.6L404.2 367.5L407.2 373.6L410.4 371.4L415.4 370.2L421.2 369.6L419.2 352.6L418.5 340L418.6 302.1Z"/>
<path class="bd" d="M418.6 302.1L449 299.6L459 338L460 344L461 356L429.4 359.9L430 363.3L433.2 364.5L433.2 368.9L429.6 370.8L427.5 367L425.7 365.8L423.8 368.9L421.2 369.6L419.2 352.6L418.5 340Z"/>
<path class="bd" d="M476.4 298.5L478.9 295.7L483.9 293.1L488.9 291L504.7 290.4L506.8 293.1L519.1 292.3L527.9 298.2L535.4 303.4L532.3 307L530.4 310.1L529.2 315.8L525.4 319.6L521.6 324L516.6 327.7L515.3 330.3L510.3 334.5L508.4 330.9L504 327.1L500.9 321.4L496.5 317L491.4 312.6L487 309.5L482.6 303.2L478.2 301.9Z"/>
<path class="bd" d="M429.4 359.9L461 356L464 358.9L467.8 360.1L500 358.9L501 355.6L508 355L511 366L518 376L521.5 380.6L524.7 384.4L524 385.7L524.7 388.8L527.8 394.5L531.6 401.4L534.7 407.7L535.3 416.5L536 422.8L535.3 427.8L532.8 431.6L527.8 434.1L524.7 433.5L522.1 428.4L519 425.3L515.2 424L513.3 420.3L511.4 417.1L508.3 417.7L506.4 415.2L502.6 408.9L498.9 403.9L497.6 401.4L495.7 395.1L496.4 391.3L496.4 385L495.5 382.8L490.4 379L485.4 375.2L481.6 370.8L476.6 368.3L472.8 368.9L470.3 372.1L466.5 374.6L460.9 375.8L456.5 371.4L451.4 368.7L445.2 367L438.9 368.3L433.2 368.9L433.2 364.5L430 363.3Z"/>
<path class="bd" style="stroke-width:1.75" d="M162.4 347.6L138 344L95.8 318.7L100.4 316M244 280.8L279.8 282.3L279.1 295.2L277.8 311.5L279.4 313.4L281.9 314.7L283.8 313.4L286.4 314L287 317.2L290.8 317.8L295.2 319.3L298.9 317.8L300.8 320.3L303.3 322.6L305.2 320.9L309 322.8L311.5 324.7L314 321.3L316.5 323.5L322.2 325.1L324.7 322.2L329.7 322.8L331.6 321.6L335.4 320.9L337.9 323.5L343 326M349 334L349 344L351 350L353.1 355.1L355.7 362.6L355 368.9L353.8 376.5L352.5 383.4L344 386L338 391L330 398.2L320.4 402.6L314.2 406.4L310.4 409.6L308.5 412.7L307.2 417.7L306.6 424L308.5 427.8L309.7 432.8L310.4 437.2L307.2 438.9L302.8 436L296.5 435.3L290.3 432.8L285.2 430.3L283.3 427.2L281.4 422.8L279.6 417.7L280.2 414L277 412.1L273.9 407.7L270.1 403.3L267.6 395.1L265.7 389.4L262.6 385.7L257.5 381.3L256.7 380.5L247.9 379.7L245.3 378.4L240.3 380.3L238.4 383.4L235.9 387.8L233.4 390.3L227.7 388.5L225.2 386.6L222.1 384.7L218.3 380.9L215.8 377.1L216.4 372.1L214.5 367.7L212 363.3L207.6 361.4L203.8 357.6L201.9 353.2L198.8 351.4L196.3 347.6L194.4 343.2M340.8 276.2L341.5 282.2M343 326L337.9 323.5L335.4 320.9L331.6 321.6L329.7 322.8L324.7 322.2L322.2 325.1L316.5 323.5L314 321.3L311.5 324.7L309 322.8L305.2 320.9L303.3 322.6L300.8 320.3L298.9 317.8L295.2 319.3L290.8 317.8L287 317.2L286.4 314L283.8 313.4L281.9 314.7L279.4 313.4L277.8 311.5L279.1 295.2L279.8 282.3L244 280.8M376.6 223.5L375.3 225.3L375.7 231.3L378.9 236.4L384.5 241.4L385.8 245.8L392.1 247L390.2 254.6L394 259L398.4 262.1L400.9 267.8L402.8 272.2L404.7 274.3M341.5 282.2L340.8 276.2M413 191.6L417 202L417.6 203L419.1 220L420.4 232.6L421.6 246.4L419.1 252.1L417.2 256.5M404.7 274.3L402.8 272.2L400.9 267.8L398.4 262.1L394 259L390.2 254.6L392.1 247L385.8 245.8L384.5 241.4L378.9 236.4L375.7 231.3L375.3 225.3L376.6 223.5M417.6 203L422 201M417.2 256.5L419.1 252.1L421.6 246.4L420.4 232.6L419.1 220L417.6 203M492.2 189.3L499.3 183.6L500.2 183.6M556.3 207.9L552.5 210.4L548.6 211.7M384.3 333.4L385.5 340L387.1 343.1L385.2 347.5L382.1 352.6L380.2 356.4L379.8 362.3L403.5 362.6L404.2 367.5L407.2 373.6L409.1 375.8L409.7 379L406.6 382.8L410.4 385.3L415.4 387.2L414.2 389.7L409.1 388.4L406 384.5L403.5 384.7L400.3 387.8L399 391L396.5 389.7L391.5 391.3L387.7 389L385.2 385.9L380.8 385.3L380.2 382.8L376.4 381.5L373.9 384L368.9 384.7L362.6 382.8L356.3 382.8L352.5 383.4L353.8 376.5L355 368.9L355.7 362.6L353.1 355.1L351 350L349 344L349 334M384.3 333.4L385.5 340L387.1 343.1L385.2 347.5L382.1 352.6L380.2 356.4L379.8 362.3L403.5 362.6L404.2 367.5L407.2 373.6L410.4 371.4L415.4 370.2L421.2 369.6L419.2 352.6L418.5 340L418.6 302.1M461 356L429.4 359.9L430 363.3L433.2 364.5L433.2 368.9L429.6 370.8L427.5 367L425.7 365.8L423.8 368.9L421.2 369.6L419.2 352.6L418.5 340L418.6 302.1M535.4 303.4L532.3 307L530.4 310.1L529.2 315.8L525.4 319.6L521.6 324L516.6 327.7L515.3 330.3L510.3 334.5M429.4 359.9L461 356M508 355L511 366L518 376L521.5 380.6L524.7 384.4L524 385.7L524.7 388.8L527.8 394.5L531.6 401.4L534.7 407.7L535.3 416.5L536 422.8L535.3 427.8L532.8 431.6L527.8 434.1L524.7 433.5L522.1 428.4L519 425.3L515.2 424L513.3 420.3L511.4 417.1L508.3 417.7L506.4 415.2L502.6 408.9L498.9 403.9L497.6 401.4L495.7 395.1L496.4 391.3L496.4 385L495.5 382.8L490.4 379L485.4 375.2L481.6 370.8L476.6 368.3L472.8 368.9L470.3 372.1L466.5 374.6L460.9 375.8L456.5 371.4L451.4 368.7L445.2 367L438.9 368.3L433.2 368.9L433.2 364.5L430 363.3L429.4 359.9"/>
<path d="M597 169.4L600.4 170.9L603.8 169.4L604.6 166.4L602.6 164.3" fill="none" stroke="#e5e1d0" stroke-width="1.3" stroke-linecap="round" stroke-linejoin="round"/>
<path d="M310.6 410.5L309.2 414L308.5 418.5L308.2 424L309.6 428.5L311 433L311.6 436.6" fill="none" stroke="#0a0a0a" stroke-width="1" stroke-linecap="round" stroke-linejoin="round"/>
<path d="M497 397L502.6 397.6L499.5 402.6Z" fill="#b8d6eb" stroke="#0a0a0a" stroke-width="1.1" stroke-linejoin="round"/>
<path d="M516.5 443L521.5 441.2M524.5 440.2L530.3 437.2L533.5 434.1L535.6 430L536.2 426.5" fill="none" stroke="#0a0a0a" stroke-width="1.9" stroke-linecap="round" stroke-linejoin="round"/>
</g>
<text class="t" x="0.8" y="35.7" textLength="178.6" lengthAdjust="spacingAndGlyphs">State Laws Regulating</text>
<text class="t" x="0.8" y="55.9" textLength="144.6" lengthAdjust="spacingAndGlyphs">Abortion Providers</text>
<rect x="199.3" y="25" width="10.8" height="10.8" fill="#b8d6eb"/>
<text class="l" x="215.3" y="34.8" textLength="162" lengthAdjust="spacingAndGlyphs">States that require abortion</text>
<text class="l" x="215.3" y="50.8" textLength="155.7" lengthAdjust="spacingAndGlyphs">clinics to meet ambulatory</text>
<text class="l" x="215.3" y="66.6" textLength="136.2" lengthAdjust="spacingAndGlyphs">surgical standards (26)</text>
<rect x="410.8" y="24.8" width="11.6" height="11.6" fill="#b8d6eb" stroke="#222" stroke-width="1.4"/>
<text class="l" x="427.9" y="34.8" textLength="210" lengthAdjust="spacingAndGlyphs">States that require abortion doctors</text>
<text class="l" x="427.9" y="50.8" textLength="187.7" lengthAdjust="spacingAndGlyphs">to have admitting privileges at a</text>
<text class="l" x="427.9" y="66.6" textLength="116" lengthAdjust="spacingAndGlyphs">local hospital (12 in</text>
<text class="lr" x="548" y="66.6" textLength="54.6" lengthAdjust="spacingAndGlyphs">BOLDFACE</text>
<text class="l" x="602.8" y="66.6">)</text>
<text class="l" x="0.8" y="463.8" textLength="145" lengthAdjust="spacingAndGlyphs" style="fill:#757575;stroke:#757575;stroke-width:.2px;font-size:12px">Source: Guttmacher Institute</text>
<text class="l" transform="translate(0.9 485.7) scale(0.84 1)" x="0" y="0" textLength="155" lengthAdjust="spacing" style="font-size:11.4px;stroke-width:.35px">PEW RESEARCH CENTER</text>
<text class="lb" x="273.6" y="168.9" textLength="13.8" lengthAdjust="spacingAndGlyphs">SD</text>
<text class="lb" x="277" y="211.8" textLength="9" lengthAdjust="spacingAndGlyphs">IA</text>
<text class="lb" x="292.5" y="256.8" textLength="13.6" lengthAdjust="spacingAndGlyphs">NE</text>
<text class="lb" x="145" y="232.8" textLength="12.5" lengthAdjust="spacingAndGlyphs">UT</text>
<text class="lb" x="439.6" y="184.8" textLength="12" lengthAdjust="spacingAndGlyphs">MI</text>
<text class="lb" x="466.8" y="221.7" textLength="13.7" lengthAdjust="spacingAndGlyphs">OH</text>
<text class="lb" x="449.6" y="262.9" textLength="12" lengthAdjust="spacingAndGlyphs">KY</text>
<text class="lb" x="521" y="252" textLength="11.9" lengthAdjust="spacingAndGlyphs">VA</text>
<text class="lb" x="571.8" y="182.7" textLength="10.9" lengthAdjust="spacingAndGlyphs">CT</text>
<text class="lb" x="597.8" y="187.8" textLength="8.8" lengthAdjust="spacingAndGlyphs">RI</text>
<text class="lb" x="536.8" y="224.1" textLength="15.1" lengthAdjust="spacingAndGlyphs">MD</text>
<text class="lb" x="597.8" y="230.8" textLength="19.2" lengthAdjust="spacingAndGlyphs">D.C.</text>
<text class="lb" x="525.8" y="282.9" textLength="13.4" lengthAdjust="spacingAndGlyphs">NC</text>
<text class="lb" x="434.5" y="291.7" textLength="12" lengthAdjust="spacingAndGlyphs">TN</text>
<text class="lb" x="357.8" y="308.9" textLength="13.3" lengthAdjust="spacingAndGlyphs">AR</text>
<text class="lr" transform="translate(358.8 257.8) scale(0.9 1)" x="0" y="0" textLength="18.11" lengthAdjust="spacing">MO</text>
<text class="lr" transform="translate(396.6 228.8) scale(0.9 1)" x="0" y="0" textLength="9.33" lengthAdjust="spacing">IL</text>
<text class="lr" transform="translate(429.8 228.8) scale(0.9 1)" x="0" y="0" textLength="10.89" lengthAdjust="spacing">IN</text>
<text class="lr" transform="translate(517.9 203) scale(0.9 1)" x="0" y="0" textLength="13.00" lengthAdjust="spacing">PA</text>
<text class="lr" transform="translate(503.8 312.8) scale(0.9 1)" x="0" y="0" textLength="15.33" lengthAdjust="spacing">SC</text>
<text class="lr" transform="translate(431.1 334.8) scale(0.9 1)" x="0" y="0" textLength="14.44" lengthAdjust="spacing">AL</text>
<text class="lr" transform="translate(396.8 338.7) scale(0.9 1)" x="0" y="0" textLength="17.33" lengthAdjust="spacing">MS</text>
<text class="lr" transform="translate(363 366.8) scale(0.9 1)" x="0" y="0" textLength="11.78" lengthAdjust="spacing">LA</text>
<text class="lr" transform="translate(283 359.9) scale(0.9 1)" x="0" y="0" textLength="12.89" lengthAdjust="spacing">TX</text>
<text class="lr" transform="translate(303 301.9) scale(0.9 1)" x="0" y="0" textLength="14.78" lengthAdjust="spacing">OK</text>
<text class="lr" transform="translate(130.9 302.9) scale(0.9 1)" x="0" y="0" textLength="14.67" lengthAdjust="spacing">AZ</text>
<text class="lr" transform="translate(505.8 393) scale(0.9 1)" x="0" y="0" textLength="12.56" lengthAdjust="spacing">FL</text>
<path d="M589.5 175.8 V183.3 H595" fill="none" stroke="#333" stroke-width="0.9"/>
<circle cx="589.5" cy="175.8" r="1.5" fill="#111"/>
<path d="M541.6 226.6 H583" fill="none" stroke="#666" stroke-width="0.9"/>
<circle cx="541.6" cy="226.6" r="1.6" fill="#111"/>
<rect x="583" y="221.4" width="10.6" height="11.2" fill="#e5e1d0"/>
</svg></body></html>
